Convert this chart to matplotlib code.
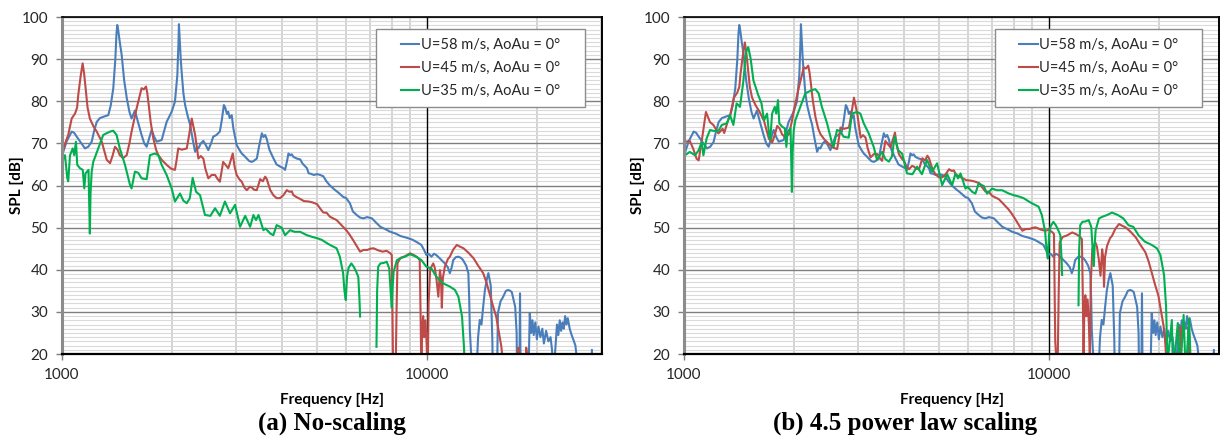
import numpy as np
import matplotlib.pyplot as plt
from matplotlib.patches import Rectangle
from matplotlib.ticker import FixedLocator, MultipleLocator, NullFormatter

plt.rcParams['font.family'] = ['Lato', 'DejaVu Sans']

# measured spectra, (frequency [Hz], SPL [dB]); nan = no data, < 20 dB is off the chart
spec_58 = [
    (1000, 67.5), (1008, 68.0), (1030, 70.5), (1063, 72.8), (1080, 72.5), (1097, 71.6),
    (1120, 70.5), (1156, 68.8), (1180, 69.2), (1206, 70.4), (1225, 73.0), (1245, 75.1),
    (1270, 76.0), (1297, 76.3), (1339, 76.7), (1360, 79.0), (1382, 83.1), (1400, 90.0),
    (1410, 96.0), (1417, 98.1), (1425, 97.0), (1440, 94.0), (1457, 91.0), (1480, 85.0),
    (1505, 80.7), (1530, 77.5), (1551, 75.9), (1570, 77.0), (1584, 77.8), (1610, 75.5),
    (1652, 72.0), (1680, 70.0), (1706, 69.2), (1730, 71.0), (1760, 73.2), (1790, 71.5),
    (1817, 70.4), (1875, 70.8), (1905, 73.0), (1935, 75.1), (1997, 77.5), (2039, 79.9),
    (2070, 86.2), (2085, 94.0), (2091, 98.3), (2100, 95.0), (2115, 90.0), (2127, 87.0),
    (2150, 82.0), (2174, 79.1), (2210, 76.5), (2244, 74.4), (2280, 71.0), (2316, 68.0),
    (2340, 69.0), (2364, 68.8), (2400, 70.0), (2439, 70.6), (2480, 69.5), (2517, 68.4),
    (2560, 70.0), (2597, 71.6), (2650, 72.0), (2707, 72.8), (2740, 75.5), (2776, 79.1),
    (2800, 78.5), (2830, 77.0), (2854, 77.5), (2880, 76.0), (2917, 76.7), (2947, 73.6),
    (2980, 71.5), (3010, 69.6), (3060, 68.5), (3108, 67.6), (3160, 67.0), (3208, 66.4),
    (3260, 65.8), (3312, 65.6), (3360, 65.9), (3418, 66.4), (3470, 69.5), (3528, 72.4),
    (3565, 71.5), (3603, 72.0), (3640, 71.0), (3700, 68.5), (3793, 66.5), (3870, 65.0),
    (3958, 64.5), (4041, 64.1), (4084, 63.7), (4140, 66.0), (4172, 67.6), (4216, 67.2),
    (4260, 67.4), (4305, 66.8), (4397, 66.4), (4493, 66.2), (4560, 65.2), (4690, 64.1),
    (4737, 62.9), (4800, 62.8), (4895, 62.5), (5000, 62.7), (5096, 62.5), (5197, 62.2),
    (5300, 61.0), (5420, 60.0), (5550, 59.2), (5700, 58.4), (5890, 57.3), (6007, 57.0),
    (6146, 55.8), (6268, 53.8), (6418, 53.0), (6550, 52.4), (6697, 52.2), (6850, 52.5),
    (7064, 52.2), (7250, 51.2), (7449, 50.2), (7700, 49.6), (7938, 49.0), (8200, 48.6),
    (8462, 48.0), (8800, 47.6), (9141, 47.1), (9400, 46.5), (9649, 45.9), (9800, 44.8),
    (9964, 43.5), (10100, 43.8), (10280, 43.1), (10450, 43.8), (10600, 43.5), (10900, 42.5),
    (11190, 41.5), (11400, 40.6), (11550, 39.2), (11680, 40.5), (11800, 42.3), (12000, 43.0),
    (12190, 43.1), (12400, 42.8), (12550, 42.3), (12800, 41.0), (12980, 39.2), (13050, 33.0),
    (13100, 25.7), (13200, 20.5), (13500, 5.0), (13700, 18.0), (13800, 24.0), (13950, 28.1),
    (14100, 27.0), (14250, 31.2), (14400, 35.0), (14570, 37.6), (14730, 39.2), (14850, 37.5),
    (14950, 36.2), (15100, 23.3), (15200, 5.0), (15500, 5.0), (15640, 29.7), (15900, 32.5),
    (16170, 33.6), (16450, 35.0), (16700, 35.2), (16900, 35.0), (17070, 34.7), (17250, 33.0),
    (17440, 31.2), (17600, 25.0), (17700, 5.0), (17900, 14.0), (17980, 34.4), (18050, 14.0),
    (18600, 5.0), (19000, 18.0), (19120, 29.7), (19300, 25.0), (19450, 28.0), (19600, 24.5),
    (19800, 27.5), (20000, 23.5), (20200, 26.5), (20450, 24.0), (20700, 26.0), (20900, 22.5),
    (21200, 25.5), (21500, 23.0), (21800, 24.0), (22000, 21.0), (22200, 15.0), (22500, 22.0),
    (22700, 27.0), (22900, 24.5), (23100, 28.0), (23300, 25.5), (23500, 27.5), (23700, 26.0),
    (23900, 29.0), (24100, 27.0), (24300, 28.5), (24600, 26.0), (24900, 24.5), (25200, 23.3),
    (25500, 22.0), (25800, 18.0), (26500, 5.0), (28000, 5.0), (28300, 21.0), (28500, 5.0),
    (30000, 5.0),
]

spec_45 = [
    (776, 65.0), (780, 65.4), (805, 65.6), (822, 63.8), (840, 61.4), (851, 61.0),
    (867, 65.4), (891, 72.5), (914, 70.1), (934, 69.4), (964, 67.4), (990, 68.5),
    (1000, 67.5), (1020, 70.0), (1040, 72.0), (1063, 75.9), (1086, 77.1), (1100, 78.5),
    (1108, 81.5), (1125, 86.0), (1139, 89.0), (1150, 86.5), (1163, 82.3), (1175, 78.5),
    (1192, 75.9), (1220, 74.0), (1245, 72.8), (1285, 70.4), (1326, 66.1), (1354, 65.3),
    (1375, 67.0), (1397, 69.2), (1420, 68.5), (1440, 67.2), (1470, 66.5), (1504, 67.2),
    (1530, 70.0), (1551, 72.8), (1601, 78.3), (1630, 81.0), (1652, 83.1), (1675, 82.8),
    (1699, 83.5), (1712, 82.0), (1724, 79.9), (1750, 75.0), (1779, 71.2), (1810, 68.5),
    (1836, 67.2), (1880, 66.0), (1935, 64.9), (1990, 64.0), (2039, 63.7), (2060, 66.0),
    (2082, 68.8), (2130, 68.5), (2197, 68.8), (2230, 72.0), (2267, 75.9), (2290, 74.0),
    (2316, 72.0), (2364, 66.4), (2400, 67.0), (2439, 66.4), (2470, 64.0), (2517, 61.7),
    (2570, 62.5), (2626, 62.5), (2670, 61.5), (2707, 60.9), (2764, 65.6), (2800, 65.0),
    (2854, 64.1), (2900, 66.0), (2936, 67.6), (2970, 64.5), (3010, 62.5), (3060, 61.5),
    (3108, 60.9), (3160, 59.5), (3208, 58.9), (3272, 59.7), (3312, 59.5), (3360, 59.0),
    (3418, 58.9), (3490, 61.5), (3550, 61.0), (3603, 62.1), (3640, 61.5), (3720, 58.9),
    (3793, 57.7), (3872, 57.0), (3958, 57.0), (4041, 57.7), (4130, 58.9), (4200, 58.5),
    (4261, 58.6), (4305, 57.7), (4400, 57.2), (4493, 56.8), (4600, 56.3), (4737, 56.2),
    (4850, 56.0), (4996, 55.6), (5100, 54.5), (5197, 53.6), (5310, 53.5), (5420, 52.6),
    (5530, 52.2), (5652, 51.8), (5800, 50.8), (6007, 49.4), (6140, 48.3), (6268, 47.1),
    (6400, 45.8), (6556, 44.3), (6700, 44.7), (6858, 44.7), (7000, 45.0), (7136, 45.1),
    (7350, 44.6), (7560, 44.3), (7750, 44.5), (7938, 43.9), (8007, 43.5), (8040, 30.0),
    (8070, 18.3), (8120, 14.0), (8200, 14.0), (8250, 30.0), (8300, 41.5), (8450, 42.8),
    (8700, 43.2), (8983, 43.9), (9200, 43.5), (9400, 43.0), (9550, 42.3), (9600, 30.0),
    (9650, 15.0), (9700, 26.0), (9760, 29.0), (9820, 24.0), (9900, 28.0), (9980, 22.0),
    (10040, 14.0), (10100, 32.0), (10200, 40.0), (10280, 40.7), (10400, 41.5), (10500, 40.5),
    (10620, 37.6), (10740, 33.6), (10850, 39.9), (10920, 38.0), (10980, 31.0), (11050, 38.0),
    (11190, 40.7), (11400, 42.5), (11550, 43.1), (11800, 44.8), (12070, 45.9), (12300, 45.5),
    (12590, 45.1), (13000, 44.0), (13420, 42.7), (13800, 41.0), (14250, 39.2), (14550, 37.0),
    (14830, 34.4), (15150, 31.5), (15470, 28.9), (15750, 25.0), (15980, 21.8), (16150, 18.0),
    (16500, 5.0), (17700, 5.0), (17800, 21.5), (17900, 5.0), (18500, 5.0), (18700, 21.5),
    (18800, 19.5), (19000, 5.0), (30000, 5.0),
]

spec_35 = [
    (600, 57.0), (607, 57.3), (626, 58.1), (647, 57.3), (662, 58.5), (675, 60.5),
    (682, 57.3), (696, 61.3), (711, 63.3), (727, 63.1), (750, 63.1), (766, 64.5),
    (791, 64.9), (807, 66.8), (824, 64.5), (841, 69.6), (859, 68.8), (877, 74.7),
    (893, 81.9), (905, 83.0), (919, 80.2), (935, 75.1), (964, 71.6), (984, 69.6),
    (1000, 65.6), (1019, 67.2), (1034, 61.7), (1040, 61.0), (1052, 67.2), (1070, 68.8),
    (1080, 67.2), (1092, 70.4), (1101, 64.9), (1120, 64.1), (1140, 63.7), (1151, 59.3),
    (1160, 62.9), (1182, 63.7), (1188, 55.0), (1192, 48.6), (1197, 58.0), (1206, 63.3),
    (1218, 65.6), (1257, 68.8), (1297, 72.0), (1354, 72.8), (1382, 73.0), (1411, 72.0),
    (1440, 68.8), (1488, 64.9), (1536, 60.1), (1551, 59.3), (1584, 63.3), (1618, 63.0),
    (1652, 61.7), (1706, 61.5), (1742, 67.2), (1797, 67.6), (1836, 67.2), (1875, 64.9),
    (1935, 62.5), (1997, 59.3), (2039, 56.2), (2105, 58.1), (2150, 56.4), (2197, 55.8),
    (2240, 57.0), (2280, 61.8), (2330, 58.5), (2389, 57.7), (2464, 53.0), (2550, 52.8),
    (2626, 54.6), (2707, 52.8), (2795, 56.2), (2886, 53.4), (2979, 55.4), (3075, 50.2),
    (3176, 52.8), (3276, 50.2), (3345, 53.0), (3400, 51.8), (3454, 53.0), (3500, 51.5),
    (3563, 49.4), (3610, 49.8), (3720, 48.6), (3793, 48.2), (3872, 50.6), (3999, 50.0),
    (4084, 48.2), (4216, 49.4), (4338, 49.0), (4493, 49.0), (4690, 48.2), (4845, 47.8),
    (4998, 47.5), (5146, 47.1), (5300, 46.4), (5420, 45.9), (5652, 45.1), (5770, 43.1),
    (5890, 39.2), (5940, 35.0), (5990, 32.8), (6040, 38.5), (6100, 40.5), (6205, 41.5),
    (6300, 40.7), (6400, 39.5), (6483, 38.3), (6530, 33.0), (6556, 28.9), (6600, np.nan),
    (7270, 21.7), (7300, 35.0), (7349, 40.7), (7450, 41.5), (7600, 41.6), (7754, 41.9),
    (7880, 40.3), (7960, 34.0), (8007, 31.0), (8050, 36.0), (8100, 39.5), (8270, 42.3),
    (8500, 42.8), (8696, 43.1), (8983, 43.7), (9330, 43.1), (9649, 42.3), (9964, 40.7),
    (10280, 40.3), (10620, 38.3), (11050, 36.8), (11550, 36.0), (11930, 35.2), (12190, 33.6),
    (12470, 28.9), (12630, 21.5), (12750, 8.0), (13100, 18.2), (13200, 5.0), (13600, 17.5),
    (13800, 5.0), (14110, 19.4), (14300, 5.0), (14600, 18.5), (14800, 5.0), (30000, 5.0),
]

speeds = [58, 45, 35]
spectra = [spec_58, spec_45, spec_35]
labels = ["U=58 m/s, AoAu = 0°", "U=45 m/s, AoAu = 0°", "U=35 m/s, AoAu = 0°"]
colors = ["#4a7ebb", "#be4b48", "#00b050"]
U_REF = 58
POWER = 4.5

W, H = 1220, 442
fig = plt.figure(figsize=(W / 100, H / 100), dpi=100)
ax_a = fig.add_axes([62 / W, 1 - 354 / H, 539.7 / W, 337 / H])
ax_b = fig.add_axes([684 / W, 1 - 354 / H, 535 / W, 337 / H])


def style(ax, xmax, ylab_x):
    ax.set_xscale("log")
    ax.set_xlim(1000, xmax)
    ax.set_ylim(20, 100)
    ax.xaxis.set_major_locator(FixedLocator([1000, 10000]))
    ax.xaxis.set_minor_locator(FixedLocator([2000, 3000, 4000, 5000, 6000, 7000, 8000, 9000, 20000, 30000]))
    ax.xaxis.set_minor_formatter(NullFormatter())
    ax.set_xticklabels(["1000", "10000"])
    ax.yaxis.set_major_locator(MultipleLocator(10))
    ax.yaxis.set_minor_locator(MultipleLocator(1))
    ax.set_axisbelow(True)
    ax.grid(which="minor", axis="y", color="#dadada", lw=0.8)
    ax.grid(which="minor", axis="x", color="#c8c8c8", lw=1.1)
    ax.grid(which="major", axis="y", color="#7f7f7f", lw=1.0)
    # the decade line sits over the fine grid
    ax.axvline(10000, color="black", lw=1.0, zorder=1)
    ax.tick_params(which="minor", length=0)
    ax.tick_params(which="major", length=4, width=1, color="#7f7f7f", labelsize=11, labelcolor="#262626")
    ax.tick_params(axis="x", pad=6)
    ax.tick_params(axis="y", pad=6)
    ax.spines["left"].set_color("#8c8c8c")
    ax.spines["left"].set_linewidth(2.2)
    ax.spines["bottom"].set_color("black")
    ax.spines["bottom"].set_linewidth(1.6)
    ax.spines["top"].set_linewidth(1.2)
    ax.spines["right"].set_linewidth(1.4)
    ax.set_xlabel("Frequency [Hz]", fontsize=11, fontweight="bold")
    ax.set_ylabel("SPL [dB]", fontsize=11, fontweight="bold")
    ax.xaxis.set_label_coords(0.5, -0.115)
    ax.yaxis.set_label_coords(ylab_x, 0.5)


# (a) raw spectra, (b) frequency and level scaled to U_REF with a 4.5 power law
for U, spec, lab, col in zip(speeds, spectra, labels, colors):
    f = np.array([p[0] for p in spec], dtype=float)
    spl = np.array([p[1] for p in spec], dtype=float)
    ax_a.plot(f, spl, color=col, lw=1.5, label=lab)
    ax_b.plot(f * U_REF / U, spl + 10 * POWER * np.log10(U_REF / U), color=col, lw=1.5, label=lab)

style(ax_a, 30100, -0.0705)
style(ax_b, 29230, -0.073)

for ax in (ax_a, ax_b):
    ax.add_patch(Rectangle((0.582, 0.733), 0.387, 0.232, transform=ax.transAxes,
                           facecolor="white", edgecolor="#8c8c8c", lw=1.0, zorder=4))
    leg = ax.legend(loc="center", bbox_to_anchor=(0.7755, 0.849), frameon=False, fontsize=10.5,
                    handlelength=1.25, handletextpad=0.1, labelspacing=0.62, borderaxespad=0)
    leg.set_zorder(5)
    for t in leg.get_texts():
        t.set_color("#262626")

fig.text(332 / W, 1 - 430 / H, "(a) No-scaling", ha="center", va="baseline",
         family="Liberation Serif", fontweight="bold", fontsize=18)
fig.text(905.5 / W, 1 - 430 / H, "(b) 4.5 power law scaling", ha="center", va="baseline",
         family="Liberation Serif", fontweight="bold", fontsize=18)

fig.savefig("out.png", dpi=100)
